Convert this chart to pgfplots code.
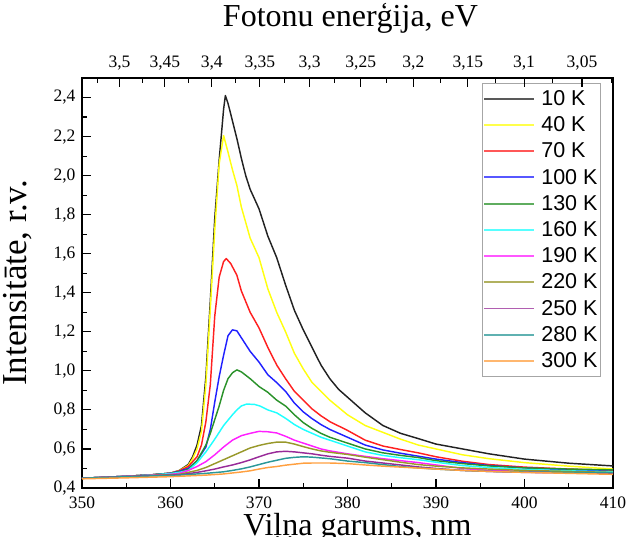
\documentclass[border=0pt]{standalone}
\usepackage{pgfplots}
\pgfplotsset{compat=1.18}
\usepackage{fontspec}
\setmainfont{Liberation Serif}
\newfontfamily\legendfont{Liberation Sans}
\definecolor{c10}{HTML}{222222}
\definecolor{c40}{HTML}{FFFF10}
\definecolor{c70}{HTML}{FF2020}
\definecolor{c100}{HTML}{2020FF}
\definecolor{c130}{HTML}{2A922A}
\definecolor{c160}{HTML}{20FFFF}
\definecolor{c190}{HTML}{FF20FF}
\definecolor{c220}{HTML}{98982A}
\definecolor{c250}{HTML}{982A98}
\definecolor{c280}{HTML}{2A9898}
\definecolor{c300}{HTML}{FFA040}
\begin{document}
\begin{tikzpicture}[x=1pt,y=1pt]
\pgfplotsset{
  common/.style={
    at={(0,0)}, anchor=south west, scale only axis,
    width=531pt, height=410pt,
    xmin=350, xmax=410,
    tick align=inside,
    axis line style={line width=1.3pt},
    major tick style={line width=1.1pt, black},
    minor tick style={line width=1.1pt, black},
    major tick length=9pt, minor tick length=5pt,
    tick label style={font=\fontsize{17.5}{20}\selectfont},
    /pgf/number format/assume math mode=true,
  }
}
\begin{axis}[common,
  ymin=0.4, ymax=2.5,
  xtick={350,360,370,380,390,400,410},
  minor xtick={355,365,375,385,395,405},
  ytick={0.4,0.6,0.8,1.0,1.2,1.4,1.6,1.8,2.0,2.2,2.4},
  minor ytick={0.5,0.7,0.9,1.1,1.3,1.5,1.7,1.9,2.1,2.3},
  xtick pos=lower, ytick pos=left,
  yticklabel style={xshift=-3pt, /pgf/number format/.cd, use comma, fixed, fixed zerofill, precision=1},
  xticklabel style={yshift=-5pt, /pgf/number format/.cd, 1000 sep={}},
  xlabel={Viļņa garums, nm},
  ylabel={Intensitāte, r.v.},
  xlabel style={font=\fontsize{32}{36}\selectfont, inner sep=0pt, at={(rel axis cs:0.5,0)}, anchor=north, yshift=-25pt, xshift=10pt},
  ylabel style={font=\fontsize{35}{38}\selectfont, at={(axis description cs:-0.0885,0.5)}, anchor=south},
  legend cell align=left,
  legend image code/.code={\fill[#1, draw=none, opacity=0.75] (0pt,-0.9pt) rectangle (50pt,0.9pt);},
  legend style={at={(rel axis cs:1,1)}, anchor=north east, xshift=-12pt, yshift=-5pt,
    draw=gray!70, line width=1pt, fill=white,
    font=\legendfont\fontsize{21.5}{24}\selectfont,
    inner xsep=2pt, inner ysep=6pt, row sep=7.7pt, column sep=6pt,
    nodes={inner sep=1pt}},
  every axis plot/.append style={line width=1.45pt, line join=round},
]
\addplot[c10] coordinates {(350,0.450)(355,0.460)(358,0.468)(360,0.476)(361,0.490)(362,0.520)(362.5,0.56)(363,0.62)(363.5,0.72)(364,0.97)(364.5,1.36)(365,1.78)(365.5,2.08)(366,2.34)(366.2,2.41)(366.5,2.37)(367,2.28)(367.5,2.19)(368,2.09)(368.5,2.00)(369,1.93)(370,1.83)(371,1.69)(372,1.58)(373,1.44)(374,1.31)(375,1.21)(376,1.12)(377,1.03)(378,0.96)(379,0.905)(380,0.865)(382,0.785)(384,0.72)(386,0.68)(388,0.653)(390,0.625)(393,0.60)(396,0.575)(400,0.548)(405,0.527)(410,0.513)};
\addlegendentry{10 K}
\addplot[c40] coordinates {(350,0.450)(355,0.460)(358,0.468)(360,0.476)(361,0.489)(362,0.515)(362.5,0.55)(363,0.60)(363.5,0.69)(364,0.93)(364.5,1.32)(365,1.72)(365.5,2.06)(366,2.205)(366.5,2.12)(367,2.03)(367.5,1.95)(368,1.84)(369,1.68)(370,1.58)(371,1.42)(372,1.30)(373,1.20)(374,1.09)(375,1.01)(376,0.94)(377,0.895)(378,0.85)(380,0.775)(382,0.72)(384,0.685)(386,0.65)(388,0.62)(390,0.60)(393,0.57)(396,0.55)(400,0.53)(405,0.512)(410,0.497)};
\addlegendentry{40 K}
\addplot[c70] coordinates {(350,0.450)(355,0.460)(358,0.468)(360,0.476)(361,0.488)(362,0.510)(363,0.56)(363.5,0.62)(364,0.74)(364.5,0.93)(365,1.28)(365.5,1.48)(366,1.56)(366.3,1.575)(366.8,1.55)(367.5,1.49)(368,1.41)(369,1.30)(370,1.22)(371,1.12)(372,1.03)(373,0.96)(374,0.895)(375,0.85)(376,0.805)(377,0.77)(378,0.74)(380,0.695)(382,0.645)(384,0.615)(386,0.597)(388,0.58)(390,0.56)(393,0.537)(396,0.52)(400,0.507)(405,0.497)(410,0.49)};
\addlegendentry{70 K}
\addplot[c100] coordinates {(350,0.450)(355,0.460)(358,0.468)(360,0.476)(361,0.486)(362,0.50)(363,0.54)(364,0.61)(364.5,0.70)(365,0.84)(365.5,0.97)(366,1.08)(366.5,1.18)(367,1.21)(367.5,1.205)(368,1.17)(369,1.10)(370,1.045)(371,0.98)(372,0.94)(373,0.895)(374,0.835)(375,0.79)(376,0.755)(377,0.725)(378,0.70)(380,0.66)(382,0.62)(384,0.595)(386,0.578)(388,0.563)(390,0.548)(393,0.53)(396,0.515)(400,0.503)(405,0.493)(410,0.485)};
\addlegendentry{100 K}
\addplot[c130] coordinates {(350,0.450)(355,0.460)(358,0.468)(360,0.475)(361,0.483)(362,0.495)(363,0.54)(364,0.62)(364.5,0.68)(365,0.75)(365.5,0.82)(366,0.90)(366.5,0.96)(367,0.99)(367.5,1.005)(368,0.995)(369,0.96)(370,0.92)(371,0.89)(372,0.85)(373,0.82)(374,0.775)(375,0.735)(376,0.705)(377,0.68)(378,0.66)(380,0.63)(382,0.60)(384,0.58)(386,0.567)(388,0.556)(390,0.54)(393,0.525)(396,0.513)(400,0.503)(405,0.497)(410,0.493)};
\addlegendentry{130 K}
\addplot[c160] coordinates {(350,0.450)(355,0.460)(358,0.467)(360,0.474)(361,0.48)(362,0.49)(363,0.53)(364,0.585)(365,0.65)(366,0.72)(367,0.775)(367.5,0.80)(368,0.82)(368.6,0.83)(369.5,0.828)(370.1,0.82)(371,0.80)(372,0.785)(373,0.757)(374,0.725)(375,0.70)(376,0.68)(377,0.66)(378,0.645)(380,0.615)(382,0.585)(384,0.567)(386,0.555)(388,0.545)(390,0.532)(393,0.515)(396,0.505)(400,0.495)(405,0.488)(410,0.483)};
\addlegendentry{160 K}
\addplot[c190] coordinates {(350,0.450)(355,0.460)(358,0.466)(360,0.47)(361,0.475)(362,0.49)(363,0.51)(364,0.535)(365,0.57)(366,0.61)(367,0.645)(368,0.668)(369,0.68)(370,0.69)(371,0.688)(372,0.682)(373,0.665)(374,0.645)(375,0.63)(376,0.615)(377,0.60)(378,0.59)(380,0.575)(382,0.562)(384,0.55)(386,0.54)(388,0.53)(390,0.518)(393,0.50)(396,0.49)(400,0.485)(405,0.48)(410,0.475)};
\addlegendentry{190 K}
\addplot[c220] coordinates {(350,0.450)(355,0.459)(358,0.465)(360,0.468)(361,0.47)(362,0.48)(363,0.49)(364,0.505)(365,0.525)(366,0.545)(367,0.565)(368,0.585)(369,0.605)(370,0.618)(371,0.628)(372,0.635)(373,0.635)(374,0.625)(375,0.612)(376,0.60)(377,0.59)(378,0.583)(380,0.572)(382,0.558)(384,0.545)(386,0.532)(388,0.52)(390,0.512)(393,0.503)(396,0.497)(400,0.49)(405,0.485)(410,0.48)};
\addlegendentry{220 K}
\addplot[c250] coordinates {(350,0.450)(355,0.459)(358,0.464)(360,0.466)(361,0.468)(362,0.473)(363,0.48)(364,0.488)(365,0.497)(366,0.508)(367,0.518)(368,0.53)(369,0.544)(370,0.56)(371,0.575)(372,0.585)(373,0.588)(374,0.585)(375,0.58)(376,0.575)(377,0.568)(378,0.562)(380,0.553)(382,0.538)(384,0.528)(386,0.518)(388,0.508)(390,0.50)(393,0.49)(396,0.485)(400,0.48)(405,0.477)(410,0.475)};
\addlegendentry{250 K}
\addplot[c280] coordinates {(350,0.450)(355,0.458)(358,0.462)(360,0.464)(361,0.466)(362,0.469)(364,0.475)(366,0.483)(367,0.49)(368,0.498)(369,0.508)(370,0.52)(371,0.532)(372,0.542)(373,0.552)(374,0.557)(375,0.56)(376,0.558)(377,0.554)(378,0.55)(380,0.538)(382,0.53)(384,0.52)(386,0.51)(388,0.503)(390,0.497)(393,0.49)(396,0.485)(400,0.482)(405,0.48)(410,0.478)};
\addlegendentry{280 K}
\addplot[c300] coordinates {(350,0.447)(355,0.452)(360,0.458)(362,0.462)(364,0.466)(366,0.472)(367,0.477)(368,0.482)(369,0.488)(370,0.497)(371,0.505)(372,0.51)(373,0.517)(374,0.522)(375,0.527)(376,0.528)(377,0.528)(378,0.528)(380,0.525)(382,0.518)(384,0.512)(386,0.507)(388,0.502)(390,0.497)(393,0.49)(396,0.485)(400,0.48)(405,0.475)(410,0.47)};
\addlegendentry{300 K}
\end{axis}
\begin{axis}[common,
  ymin=0, ymax=1,
  axis x line*=top, hide y axis,
  xtick={354.24,359.37,364.66,370.10,375.72,381.49,387.45,393.60,399.95,406.50},
  xticklabels={{3,5},{3,45},{3,4},{3,35},{3,3},{3,25},{3,2},{3,15},{3,1},{3,05}},
  minor xtick={351.73,356.79,362.00,367.36,372.88,378.58,384.45,390.50,396.75,403.20,409.86},
  xticklabel style={yshift=4pt},
  xlabel={Fotonu enerģija, eV},
  xlabel style={font=\fontsize{32}{36}\selectfont, at={(rel axis cs:0.5,1)}, anchor=base, yshift=51pt, xshift=3pt},
]
\end{axis}
\pgfresetboundingbox
\path[use as bounding box] (-82,-48) rectangle (547,488);
\end{tikzpicture}
\end{document}
